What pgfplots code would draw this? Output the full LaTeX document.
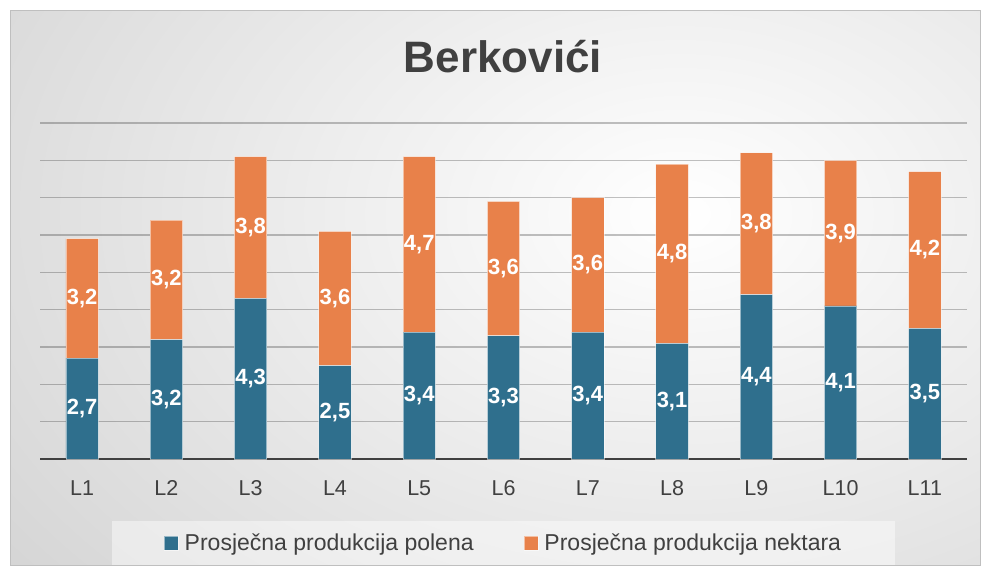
\documentclass[border=0pt]{standalone}
\usepackage{pgfplots}
\usepackage{pgfplotstable}
\pgfplotsset{compat=1.18}
\usepackage{fontspec}
\setmainfont{Liberation Sans}
\definecolor{cblue}{RGB}{47,111,141}
\definecolor{corange}{RGB}{232,129,74}
\definecolor{txt}{RGB}{64,64,64}

\pgfplotstableread{
x pol nek
0 2.7 3.2
1 3.2 3.2
2 4.3 3.8
3 2.5 3.6
4 3.4 4.7
5 3.3 3.6
6 3.4 3.6
7 3.1 4.8
8 4.4 3.8
9 4.1 3.9
10 3.5 4.2
}\data

\begin{document}
\begin{tikzpicture}
\useasboundingbox (0pt,0pt) rectangle (984pt,574pt);
\begin{scope}
\clip (10pt,9pt) rectangle (980pt,563pt);
\shade[inner color=white, outer color=black!27] (-720pt,-600pt) rectangle (2080pt,1320pt);
\end{scope}
\draw[black!25, line width=1pt] (10pt,9pt) rectangle (980pt,563pt);
\node[font=\bfseries\fontsize{44}{50}\selectfont, text=txt] at (503pt,517pt) {Berkovići};

\begin{axis}[at={(40pt,115pt)}, anchor=south west, scale only axis,
  width=927pt, height=336pt, xmin=-0.5, xmax=10.5, ymin=0, ymax=9,
  ybar stacked, bar width=32.4pt,
  axis line style={draw=none}, tick style={draw=none},
  xtick=data, xticklabels={L1,L2,L3,L4,L5,L6,L7,L8,L9,L10,L11},
  ytick={1,2,3,4,5,6,7,8,9}, yticklabels={},
  ymajorgrids, grid style={black, opacity=0.24, line width=1.2pt},
  xticklabel style={font=\fontsize{21.5}{25}\selectfont, text=txt, anchor=center, yshift=-29pt},
  legend style={at={(0.5,-0.25)}, anchor=center, legend columns=2, draw=none,
    fill=white, fill opacity=0.45, text opacity=1, inner xsep=52pt, inner ysep=10.5pt,
    font=\fontsize{23}{27}\selectfont, text=txt,
    /tikz/every odd column/.append style={column sep=4pt},
    /tikz/every even column/.append style={column sep=48pt}},
  legend image code/.code={\draw[#1, fill opacity=1] (0pt,-7pt) rectangle (14pt,7pt);},
]
\addplot[fill=cblue, draw=white, draw opacity=0.5, line width=0.8pt] table[x=x,y=pol]{\data};
\addlegendentry{Prosječna produkcija polena}
\addplot[fill=corange, draw=white, draw opacity=0.5, line width=0.8pt] table[x=x,y=nek]{\data};
\addlegendentry{Prosječna produkcija nektara}
\draw[txt, line width=3pt] (rel axis cs:0,0) -- (rel axis cs:1,0);
\end{axis}

\begin{axis}[at={(40pt,115pt)}, anchor=south west, scale only axis,
  width=927pt, height=336pt, xmin=-0.5, xmax=10.5, ymin=0, ymax=9, hide axis,
  /pgf/number format/assume math mode=true,
  /pgf/number format/use comma, /pgf/number format/fixed,
  /pgf/number format/fixed zerofill, /pgf/number format/precision=1,
  nodes near coords style={anchor=center, font=\bfseries\fontsize{22}{26}\selectfont, text=white},
]
\addplot[only marks, mark=*, mark size=0pt, mark options={draw=none, fill=none},
  nodes near coords, point meta=explicit]
  table[x=x, y expr=\thisrow{pol}/2, meta=pol]{\data};
\addplot[only marks, mark=*, mark size=0pt, mark options={draw=none, fill=none},
  nodes near coords, point meta=explicit]
  table[x=x, y expr=\thisrow{pol}+\thisrow{nek}/2, meta=nek]{\data};
\end{axis}
\end{tikzpicture}
\end{document}
